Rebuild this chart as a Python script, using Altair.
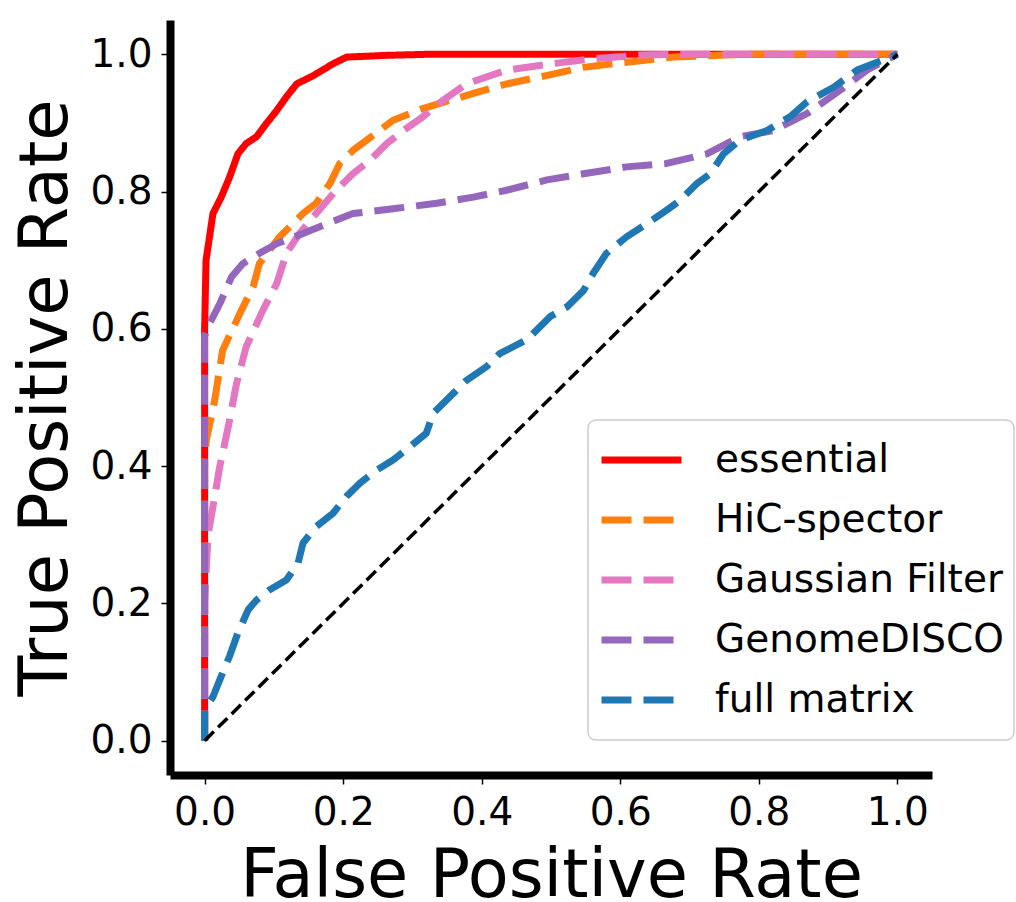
import altair as alt
import pandas as pd

series_names = ["essential", "HiC-spector", "Gaussian Filter", "GenomeDISCO", "full matrix"]
series_colors = ["#ff0000", "#ff7f0e", "#e377c2", "#9467bd", "#1f77b4"]

essential_fpr = [0, 0, 0.002, 0.005, 0.012, 0.024, 0.036, 0.048, 0.060, 0.075, 0.089, 0.104, 0.118,
                 0.133, 0.157, 0.185, 0.205, 0.263, 0.32, 1.0]
essential_tpr = [0, 0.60, 0.70, 0.72, 0.768, 0.792, 0.821, 0.855, 0.870, 0.880, 0.899, 0.918, 0.938,
                 0.957, 0.969, 0.986, 0.996, 0.9985, 1.0, 1.0]

hic_fpr = [0, 0, 0.0025, 0.0145, 0.026, 0.053, 0.070, 0.079, 0.108, 0.142, 0.161, 0.181, 0.195, 0.214,
           0.234, 0.272, 0.315, 0.344, 0.388, 0.436, 0.484, 0.547, 0.604, 0.677, 0.773, 1.0]
hic_tpr = [0, 0.41, 0.438, 0.496, 0.569, 0.627, 0.661, 0.695, 0.734, 0.768, 0.783, 0.812, 0.841, 0.860,
           0.875, 0.904, 0.921, 0.930, 0.943, 0.957, 0.967, 0.981, 0.988, 0.996, 1.0, 1.0]

gauss_fpr = [0, 0, 0.0025, 0.005, 0.012, 0.022, 0.034, 0.046, 0.060, 0.084, 0.104, 0.118, 0.137, 0.161,
             0.190, 0.214, 0.238, 0.263, 0.287, 0.315, 0.344, 0.378, 0.436, 0.499, 0.556, 0.629, 0.70, 1.0]
gauss_tpr = [0, 0.20, 0.254, 0.30, 0.341, 0.40, 0.457, 0.52, 0.574, 0.627, 0.666, 0.710, 0.739, 0.768,
             0.802, 0.826, 0.845, 0.870, 0.889, 0.909, 0.933, 0.957, 0.977, 0.986, 0.993, 0.999, 1.0, 1.0]

disco_fpr = [0, 0, 0.007, 0.017, 0.022, 0.039, 0.055, 0.079, 0.104, 0.142, 0.176, 0.214, 0.272, 0.335,
             0.388, 0.436, 0.494, 0.547, 0.609, 0.667, 0.725, 0.773, 0.821, 0.870, 0.918, 0.956, 1.0]
disco_tpr = [0, 0.59, 0.608, 0.627, 0.637, 0.676, 0.695, 0.710, 0.724, 0.739, 0.753, 0.768, 0.775, 0.783,
             0.792, 0.802, 0.817, 0.826, 0.836, 0.841, 0.855, 0.880, 0.889, 0.914, 0.948, 0.977, 1.0]

full_fpr = [0, 0, 0.012, 0.024, 0.036, 0.048, 0.063, 0.075, 0.094, 0.118, 0.135, 0.142, 0.161, 0.185,
            0.205, 0.224, 0.248, 0.272, 0.296, 0.320, 0.330, 0.354, 0.378, 0.407, 0.426, 0.465, 0.499,
            0.523, 0.547, 0.561, 0.580, 0.609, 0.638, 0.667, 0.686, 0.711, 0.730, 0.749, 0.773, 0.812,
            0.845, 0.870, 0.908, 0.942, 1.0]
full_tpr = [0, 0.045, 0.064, 0.094, 0.123, 0.157, 0.191, 0.205, 0.220, 0.234, 0.259, 0.288, 0.312, 0.331,
            0.356, 0.375, 0.394, 0.409, 0.428, 0.448, 0.477, 0.501, 0.525, 0.545, 0.564, 0.584, 0.618,
            0.632, 0.656, 0.681, 0.710, 0.734, 0.753, 0.773, 0.787, 0.812, 0.826, 0.855, 0.875, 0.889,
            0.909, 0.931, 0.952, 0.977, 1.0]

diag_fpr = [0, 1]
diag_tpr = [0, 1]

x_ticks = [0.0, 0.2, 0.4, 0.6, 0.8, 1.0]
y_ticks = [0.0, 0.2, 0.4, 0.6, 0.8, 1.0]

all_fpr = [essential_fpr, hic_fpr, gauss_fpr, disco_fpr, full_fpr]
all_tpr = [essential_tpr, hic_tpr, gauss_tpr, disco_tpr, full_tpr]

rows = []
for s_i, (name, fx, ty) in enumerate(zip(series_names, all_fpr, all_tpr)):
    for k, (a, b) in enumerate(zip(fx, ty)):
        rows.append({"series": name, "fpr": a, "tpr": b, "idx": s_i * 1000 + k})
df = pd.DataFrame(rows)
diag_df = pd.DataFrame({"fpr": diag_fpr, "tpr": diag_tpr})

FONT = "DejaVu Sans"

x_enc = alt.X("fpr:Q", scale=alt.Scale(domain=[-0.05, 1.05], nice=False, zero=False),
              axis=alt.Axis(title="False Positive Rate", values=x_ticks, format=".1f",
                            titleY=121, titleBaseline="alphabetic"))
y_enc = alt.Y("tpr:Q", scale=alt.Scale(domain=[-0.05, 1.05], nice=False, zero=False),
              axis=alt.Axis(title="True Positive Rate", values=y_ticks, format=".1f",
                            titleX=-104, titleBaseline="alphabetic"))

dash_range = [[1, 0], [30, 12], [30, 12], [30, 12], [30, 12]]
leg = alt.Legend(title=None, orient="none", legendX=418, legendY=400)

lines = alt.Chart(df).mark_line(strokeWidth=7, strokeCap="butt", strokeJoin="round").encode(
    x=x_enc,
    y=y_enc,
    color=alt.Color("series:N", scale=alt.Scale(domain=series_names, range=series_colors), legend=leg),
    strokeDash=alt.StrokeDash("series:N", scale=alt.Scale(domain=series_names, range=dash_range),
                              legend=leg),
    order=alt.Order("idx:Q"),
)

diag = alt.Chart(diag_df).mark_line(color="black", strokeWidth=3.5, strokeDash=[13, 6],
                                    strokeCap="butt").encode(x="fpr:Q", y="tpr:Q")

chart = alt.layer(lines, diag).properties(
    width=762, height=755,
    padding={"left": 170, "top": 20, "right": 84, "bottom": 127},
    autosize=alt.AutoSizeParams(type="none"),
).configure_view(stroke=None).configure_axis(
    grid=False,
    domainColor="black", domainWidth=8,
    tickColor="black", tickWidth=1.5, tickSize=9,
    labelFont=FONT, labelFontSize=39, labelColor="black", labelPadding=9,
    titleFont=FONT, titleFontSize=67, titleColor="black", titleFontWeight="normal",
).configure_legend(
    symbolType="stroke", symbolSize=6400, symbolStrokeWidth=7,
    labelFont=FONT, labelFontSize=39, labelColor="black", labelOffset=30, labelLimit=500,
    clipHeight=60, rowPadding=0, padding=10,
    strokeColor="#cccccc", fillColor="white", cornerRadius=8, strokeWidth=1.5,
)

chart.save("out.html", embed_options={"renderer": "svg", "actions": False})
